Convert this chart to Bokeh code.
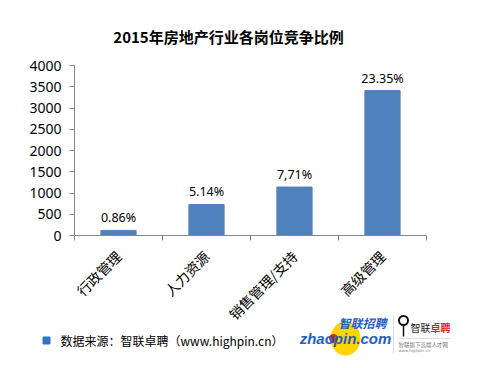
import math
from bokeh.plotting import figure
from bokeh.models import Range1d, FixedTicker, LinearAxis, ColumnDataSource
from bokeh.core.properties import value
from bokeh.embed import file_html
from bokeh.resources import INLINE

# ---- data ----
categories = ["行政管理", "人力资源", "销售管理/支持", "高级管理"]
counts = [120, 730, 1140, 3410]
ratio_labels = ["0.86%", "5.14%", "7,71%", "23.35%"]
y_ticks = [0, 500, 1000, 1500, 2000, 2500, 3000, 3500, 4000]
title_text = "2015年房地产行业各岗位竞争比例"
source_text = "数据来源：智联卓聘（www.highpin.cn）"

# ---- geometry (pixel coords of plot area inside the canvas) ----
W, H = 472, 360
FL, FR, FT, FB = 74, 426, 65, 235
YMAX = 4000
NCAT = len(categories)
UX = NCAT / (FR - FL)      # data units per pixel (x)
PX = YMAX / (FB - FT)      # data units per pixel (y)

def dx(ix):
    return (ix - FL) * UX

def dy(iy):
    return (FB - iy) * PX

p = figure(width=W, height=H, output_backend="svg", toolbar_location=None,
           x_range=Range1d(dx(0), dx(W)), y_range=Range1d(dy(H), dy(0)),
           x_axis_type=None, y_axis_type=None,
           min_border=0, min_border_left=0, min_border_right=0,
           min_border_top=0, min_border_bottom=0)
p.outline_line_color = None
p.background_fill_color = "white"
p.border_fill_color = "white"

AX = "#868686"
ya = LinearAxis(fixed_location=0, bounds=(0, YMAX), ticker=FixedTicker(ticks=y_ticks))
ya.axis_line_color = AX
ya.major_tick_line_color = AX
ya.major_tick_out = 5
ya.major_tick_in = 0
ya.minor_tick_line_color = None
ya.major_label_standoff = 8
ya.major_label_text_font = "Noto Sans"
ya.major_label_text_font_size = "14px"
ya.major_label_text_color = "#000000"
p.add_layout(ya, "left")

xa = LinearAxis(fixed_location=0, bounds=(0, NCAT), ticker=FixedTicker(ticks=list(range(NCAT + 1))))
xa.axis_line_color = AX
xa.major_tick_line_color = AX
xa.major_tick_out = 5
xa.major_tick_in = 0
xa.minor_tick_line_color = None
xa.major_label_text_color = None
xa.major_label_text_font_size = "1px"
p.add_layout(xa, "below")

xs = [i + 0.5 for i in range(NCAT)]
src = ColumnDataSource(dict(x=xs, top=counts, cat=categories, lab=ratio_labels,
                            laby=[c + 4 * PX for c in counts],
                            caty=[dy(FB + 18)] * NCAT))
p.vbar(x="x", top="top", bottom=0, width=0.4, source=src, color="#4F81BD")

# value labels
p.text(x="x", y="laby", text="lab", source=src, text_align="center",
       text_baseline="bottom", text_font=value("Noto Sans"),
       text_font_size="12.5px", text_color="#000000")
# category labels
p.text(x="x", y="caty", text="cat", source=src, text_align="right",
       text_baseline="middle", angle=math.pi / 4,
       text_font=value("Noto Sans CJK SC"), text_font_size="14px", text_color="#000000")

def lab(ix, iy, text, font, size, color, align="center", style="normal"):
    p.text(x=[dx(ix)], y=[dy(iy)], text=[text], text_align=align,
           text_baseline="middle", text_font=value(font),
           text_font_style=style, text_font_size=size, text_color=color)

# title
lab(228, 36, title_text, "Noto Sans CJK SC", "15px", "#000000", style="bold")

# legend/source
p.scatter(x=[dx(46)], y=[dy(340)], marker="square", size=7, color="#2E75C0")
lab(60, 340, source_text, "Noto Sans CJK SC", "12px", "#000000", align="left")

# logo 1 (zhaopin)
p.ellipse(x=[dx(345)], y=[dy(338)], width=30, height=34, width_units="screen",
          height_units="screen", fill_color="#FFD400", line_color=None)
lab(362, 322, "智联招聘", "Noto Sans CJK SC", "12px", "#1F5FBF", style="bold italic")
p.scatter(x=[dx(333)], y=[dy(338)], size=8, color="#D42020")
lab(345, 338, "zhaopin.com", "Liberation Sans", "15px", "#1F5FBF", style="bold italic")

# logo 2 (highpin)
p.segment(x0=[dx(393)], y0=[dy(315)], x1=[dx(393)], y1=[dy(353)], line_color="#DDDDDD", line_width=1)
p.circle(x=[dx(403)], y=[dy(320)], radius=4.5, radius_units="screen", fill_color=None,
         line_color="#111111", line_width=2)
p.segment(x0=[dx(403)], y0=[dy(325)], x1=[dx(403)], y1=[dy(336)], line_color="#111111", line_width=1.5)
lab(430, 327, "智联", "Noto Sans CJK SC", "10px", "#222222", align="right")
lab(430, 327, "卓聘", "Noto Sans CJK SC", "10px", "#E02020", align="left", style="bold")
p.segment(x0=[dx(398)], y0=[dy(338)], x1=[dx(450)], y1=[dy(338)], line_color="#DDDDDD", line_width=1)
lab(398, 344, "智联旗下高端人才网", "Noto Sans CJK SC", "5.5px", "#777777", align="left")
lab(398, 349.5, "www.highpin.cn", "DejaVu Sans", "4px", "#888888", align="left")

open("out.html", "w").write(file_html(p, INLINE))
